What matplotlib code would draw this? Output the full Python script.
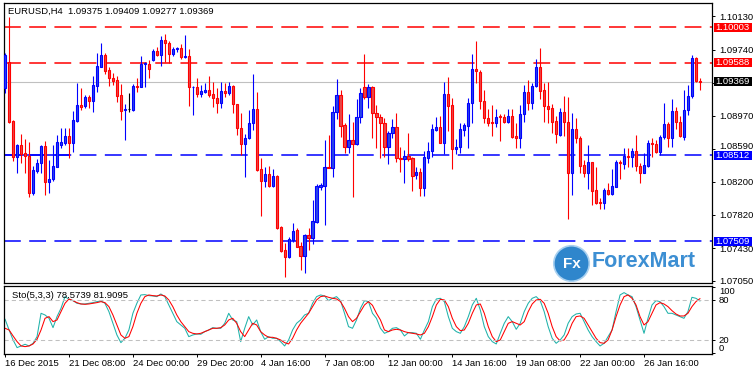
import numpy as np
import matplotlib
matplotlib.use("Agg")
import matplotlib.pyplot as plt
from matplotlib.patches import Rectangle, Ellipse
from matplotlib.transforms import blended_transform_factory

plt.rcParams["font.family"] = ["Liberation Sans", "DejaVu Sans"]

# header values
symbol = "EURUSD,H4"
last_ohlc = [1.09375, 1.09409, 1.09277, 1.09369]
sto_params = "Sto(5,3,3)"
sto_last = [78.5739, 81.9095]

# H4 candles
opens = [1.09293, 1.09596, 1.08912, 1.08496, 1.08632, 1.08535, 1.08504, 1.08076, 1.08333, 1.08418,
         1.08620, 1.08204, 1.08231, 1.08379, 1.08632, 1.08659, 1.08737, 1.08659, 1.08916, 1.09099,
         1.09091, 1.09188, 1.09149, 1.09324, 1.09546, 1.09682, 1.09507, 1.09414, 1.09390, 1.09215,
         1.09040, 1.09048, 1.09040, 1.09320, 1.09313, 1.09573, 1.09573, 1.09624, 1.09725, 1.09682,
         1.09857, 1.09818, 1.09690, 1.09748, 1.09760, 1.09655, 1.09670, 1.09305, 1.09313, 1.09223,
         1.09254, 1.09274, 1.09227, 1.09176, 1.09126, 1.09262, 1.09235, 1.09320, 1.09106, 1.08826,
         1.08644, 1.08710, 1.08885, 1.09052, 1.08348, 1.08216, 1.08294, 1.08154, 1.08270, 1.07671,
         1.07407, 1.07329, 1.07524, 1.07640, 1.07454, 1.07341, 1.07578, 1.07551, 1.07737, 1.08146,
         1.08157, 1.08379, 1.08368, 1.09013, 1.09215, 1.08865, 1.08605, 1.08690, 1.08640, 1.08963,
         1.09313, 1.09196, 1.09313, 1.09001, 1.08963, 1.08893, 1.08613, 1.08768, 1.08838, 1.08484,
         1.08473, 1.08504, 1.08476, 1.08282, 1.08321, 1.08126, 1.08476, 1.08566, 1.08807, 1.08838,
         1.08659, 1.09227, 1.09099, 1.08581, 1.08613, 1.08807, 1.08858, 1.09118, 1.09515, 1.09480,
         1.09145, 1.08943, 1.08900, 1.08893, 1.08970, 1.08963, 1.08904, 1.08970, 1.08737, 1.08718,
         1.08990, 1.09254, 1.09126, 1.09320, 1.09538, 1.09274, 1.09087, 1.09060, 1.08912, 1.08749,
         1.09013, 1.08904, 1.08301, 1.08819, 1.08710, 1.08399, 1.08309, 1.08430, 1.08107, 1.07971,
         1.07951, 1.08107, 1.08060, 1.08146, 1.08437, 1.08410, 1.08507, 1.08488, 1.08562, 1.08391,
         1.08309, 1.08391, 1.08651, 1.08644, 1.08554, 1.08721, 1.08873, 1.08710, 1.09029, 1.08904,
         1.08729, 1.09040, 1.09208, 1.09643, 1.09375]
highs = [1.09701, 1.10121, 1.08924, 1.08640, 1.08760, 1.08702, 1.08671, 1.08387, 1.08465, 1.08632,
         1.08679, 1.08457, 1.08632, 1.08749, 1.08826, 1.08826, 1.08826, 1.09033, 1.09359, 1.09293,
         1.09215, 1.09215, 1.09437, 1.09709, 1.09826, 1.09701, 1.09546, 1.09476, 1.09437, 1.09344,
         1.09106, 1.09243, 1.09344, 1.09410, 1.09670, 1.09604, 1.09624, 1.09748, 1.09779, 1.09896,
         1.09927, 1.09838, 1.09779, 1.09779, 1.09810, 1.09915, 1.09748, 1.09320, 1.09410, 1.09332,
         1.09359, 1.09437, 1.09371, 1.09293, 1.09371, 1.09359, 1.09371, 1.09332, 1.09110, 1.09009,
         1.08760, 1.09040, 1.09460, 1.09254, 1.08476, 1.08379, 1.08387, 1.08348, 1.08282, 1.07687,
         1.07485, 1.07562, 1.07718, 1.07660, 1.07504, 1.07590, 1.07660, 1.07990, 1.08177, 1.08185,
         1.08690, 1.08749, 1.09087, 1.09402, 1.09274, 1.08893, 1.08994, 1.08896, 1.09165, 1.09293,
         1.09694, 1.09344, 1.09320, 1.09099, 1.08994, 1.08943, 1.08799, 1.08935, 1.09001, 1.08605,
         1.08574, 1.08768, 1.08496, 1.08379, 1.08360, 1.08566, 1.08671, 1.08877, 1.08963, 1.08970,
         1.09371, 1.09429, 1.09184, 1.08698, 1.08885, 1.08893, 1.09176, 1.09694, 1.09838, 1.09507,
         1.09274, 1.09052, 1.09099, 1.09048, 1.08994, 1.08994, 1.09048, 1.09052, 1.08893, 1.09099,
         1.09332, 1.09390, 1.09351, 1.09631, 1.09760, 1.09359, 1.09371, 1.09110, 1.08970, 1.09060,
         1.09204, 1.09196, 1.09009, 1.08943, 1.08737, 1.08457, 1.08632, 1.08437, 1.08379, 1.08010,
         1.08134, 1.08185, 1.08348, 1.08457, 1.08457, 1.08593, 1.08593, 1.08593, 1.08749, 1.08418,
         1.08535, 1.08690, 1.08710, 1.08690, 1.08749, 1.09118, 1.08904, 1.09165, 1.09079, 1.08970,
         1.09274, 1.09332, 1.09682, 1.09655, 1.09409]
lows = [1.09235, 1.08885, 1.08449, 1.08309, 1.08418, 1.08309, 1.08021, 1.08049, 1.08301, 1.08309,
        1.08049, 1.08076, 1.08216, 1.08371, 1.08593, 1.08632, 1.08476, 1.08554, 1.08904, 1.09040,
        1.09060, 1.09060, 1.09021, 1.09254, 1.09538, 1.09460, 1.09320, 1.09332, 1.09138, 1.08924,
        1.08690, 1.09021, 1.09033, 1.09254, 1.09305, 1.09313, 1.09410, 1.09616, 1.09663, 1.09554,
        1.09593, 1.09585, 1.09663, 1.09721, 1.09631, 1.09643, 1.09087, 1.08982, 1.09188, 1.09188,
        1.09235, 1.09188, 1.09079, 1.09009, 1.09068, 1.09188, 1.09215, 1.09001, 1.08749, 1.08515,
        1.08262, 1.08698, 1.08807, 1.08333, 1.07807, 1.08146, 1.08138, 1.08146, 1.07648, 1.07387,
        1.07096, 1.07318, 1.07504, 1.07438, 1.07174, 1.07142, 1.07407, 1.07473, 1.07726, 1.08107,
        1.07699, 1.08360, 1.08255, 1.08931, 1.08729, 1.08535, 1.08543, 1.08029, 1.08632, 1.08893,
        1.09165, 1.09068, 1.08718, 1.08593, 1.08476, 1.08496, 1.08406, 1.08710, 1.08437, 1.08321,
        1.08192, 1.08449, 1.08099, 1.08231, 1.08041, 1.08041, 1.08426, 1.08496, 1.08799, 1.08651,
        1.08527, 1.08799, 1.08352, 1.08527, 1.08543, 1.08737, 1.08601, 1.08893, 1.09359, 1.09052,
        1.08885, 1.08854, 1.08737, 1.08846, 1.08679, 1.08885, 1.08885, 1.08718, 1.08593, 1.08593,
        1.08904, 1.09040, 1.09048, 1.09305, 1.09165, 1.08904, 1.08885, 1.08776, 1.08659, 1.08737,
        1.08737, 1.07769, 1.08049, 1.08659, 1.08301, 1.08262, 1.08115, 1.07932, 1.07944, 1.07885,
        1.07885, 1.08049, 1.08049, 1.08138, 1.08231, 1.08348, 1.08379, 1.08379, 1.08333, 1.08185,
        1.08301, 1.08379, 1.08496, 1.08543, 1.08515, 1.08698, 1.08613, 1.08613, 1.08815, 1.08721,
        1.08690, 1.08982, 1.09176, 1.09371, 1.09277]
closes = [1.09682, 1.08904, 1.08496, 1.08632, 1.08527, 1.08507, 1.08076, 1.08340, 1.08418, 1.08620,
          1.08204, 1.08231, 1.08387, 1.08663, 1.08663, 1.08737, 1.08651, 1.08924, 1.09099, 1.09079,
          1.09188, 1.09149, 1.09332, 1.09554, 1.09682, 1.09499, 1.09410, 1.09383, 1.09208, 1.09033,
          1.09052, 1.09048, 1.09320, 1.09313, 1.09577, 1.09585, 1.09519, 1.09725, 1.09682, 1.09857,
          1.09818, 1.09690, 1.09748, 1.09760, 1.09655, 1.09670, 1.09305, 1.09313, 1.09223, 1.09262,
          1.09274, 1.09215, 1.09176, 1.09126, 1.09262, 1.09235, 1.09320, 1.09106, 1.08826, 1.08640,
          1.08710, 1.08885, 1.09052, 1.08340, 1.08216, 1.08294, 1.08154, 1.08270, 1.07660, 1.07399,
          1.07329, 1.07531, 1.07629, 1.07446, 1.07341, 1.07578, 1.07551, 1.07745, 1.08154, 1.08165,
          1.08371, 1.08368, 1.09013, 1.09215, 1.08858, 1.08605, 1.08690, 1.08640, 1.08963, 1.09243,
          1.09188, 1.09313, 1.09001, 1.08963, 1.08893, 1.08613, 1.08768, 1.08838, 1.08476, 1.08473,
          1.08507, 1.08473, 1.08274, 1.08321, 1.08126, 1.08488, 1.08566, 1.08815, 1.08838, 1.08659,
          1.09227, 1.09091, 1.08581, 1.08613, 1.08815, 1.08865, 1.09118, 1.09515, 1.09488, 1.09149,
          1.08943, 1.08893, 1.08893, 1.08963, 1.08963, 1.08904, 1.08970, 1.08729, 1.08718, 1.08994,
          1.09254, 1.09126, 1.09320, 1.09538, 1.09266, 1.09091, 1.09052, 1.08904, 1.08756, 1.09013,
          1.08896, 1.08301, 1.08819, 1.08710, 1.08391, 1.08301, 1.08437, 1.08099, 1.07959, 1.07959,
          1.08107, 1.08060, 1.08154, 1.08437, 1.08418, 1.08507, 1.08488, 1.08562, 1.08387, 1.08309,
          1.08399, 1.08651, 1.08644, 1.08554, 1.08721, 1.08873, 1.08710, 1.09029, 1.08904, 1.08737,
          1.09040, 1.09208, 1.09643, 1.09379, 1.09369]

# stochastic main (%K) and signal (%D)
sto_main = [51, 35, 20, 8.5, 11, 13.5, 11, 15, 25, 60,
            57.5, 52.5, 38.5, 55, 67.5, 85, 81, 79, 75, 74,
            74, 75, 76, 77.5, 78.5, 75, 62.5, 45, 27.5, 16,
            22.5, 35, 60, 75, 87.5, 88, 86.5, 86, 85, 89,
            85, 72.5, 60, 47.5, 42.5, 37.5, 25, 27.5, 29, 28.5,
            32.5, 35, 38.5, 37.5, 37.5, 45, 60, 50, 47.5, 17.5,
            37.5, 55, 42.5, 50, 32.5, 21, 25, 22.5, 22.5, 17.5,
            11, 20, 35, 45, 50, 57.5, 60, 75, 85, 87.5,
            86, 79, 82.5, 85, 79, 60, 40, 37.5, 50, 67.5,
            79, 77.5, 60, 52.5, 37.5, 30, 32.5, 37.5, 38.5, 35,
            26, 31, 31, 30, 21, 35, 47.5, 70, 81.5, 82.5,
            77.5, 55, 37.5, 32.5, 30, 40, 55, 72.5, 82.5, 65,
            40, 25, 17.5, 14, 30, 45, 55, 47.5, 36, 45,
            62.5, 75, 82.5, 85, 79, 62.5, 40, 22.5, 15, 20,
            27.5, 45, 55, 59, 60, 47.5, 35, 25, 17.5, 11,
            15, 25, 35, 62.5, 87.5, 91, 87.5, 85, 70, 50,
            30, 52.5, 72.5, 79, 77.5, 70, 60, 60, 57.5, 55,
            52.5, 62.5, 84, 82.5, 78.5739]
sto_signal = [37.5, 35, 26, 17.5, 11, 10, 11, 14, 21, 35,
              52.5, 55, 47.5, 50, 62.5, 75, 81.5, 79, 76, 74,
              73.5, 74, 75, 76, 77.5, 76, 70, 57.5, 42.5, 27.5,
              22.5, 25, 40, 60, 75, 85, 87.5, 86.5, 86, 87.5,
              86, 80, 70, 57.5, 47.5, 40, 32.5, 30, 29, 30,
              32.5, 35, 37.5, 37.5, 38.5, 42.5, 50, 52.5, 45, 32.5,
              25, 35, 45, 42.5, 32.5, 27.5, 24, 24, 22.5, 20,
              16, 14, 22.5, 35, 45, 52.5, 60, 70, 80, 85,
              86, 84, 82.5, 81.5, 77.5, 67.5, 55, 47.5, 52.5, 62.5,
              72.5, 77.5, 72, 60, 50, 35, 32.5, 35, 36, 35,
              32.5, 31, 30, 29, 27.5, 30, 40, 55, 72.5, 81,
              80, 70, 52.5, 40, 34, 35, 45, 60, 72.5, 74,
              60, 40, 25, 17.5, 20, 32.5, 45, 47.5, 45, 42.5,
              47.5, 62.5, 74, 80, 81, 75, 60, 40, 25, 18.5,
              20, 30, 45, 55, 56, 52.5, 42.5, 32.5, 22.5, 16,
              15, 20, 35, 55, 72.5, 85, 87.5, 82.5, 72.5, 55,
              42.5, 47.5, 60, 72.5, 76, 74, 70, 64, 59, 56,
              56, 60, 70, 77.5, 81.9095]

# horizontal levels
resistance = [1.10003, 1.09588]
support = [1.08512, 1.07509]
bid = 1.09369

price_ticks = [1.10130, 1.09740, 1.09350, 1.08970, 1.08590, 1.08200, 1.07820, 1.07430, 1.07050]
time_tick_pos = [0, 16, 32, 48, 64, 80, 96, 112, 128, 144, 160]
time_tick_labels = ["16 Dec 2015", "21 Dec 08:00", "24 Dec 00:00", "29 Dec 20:00", "4 Jan 16:00",
                    "7 Jan 08:00", "12 Jan 00:00", "14 Jan 16:00", "19 Jan 08:00", "22 Jan 00:00",
                    "26 Jan 16:00"]

W, H = 756, 374
fig = plt.figure(figsize=(W / 100, H / 100), dpi=100)
fig.patch.set_facecolor("white")


def box(l, t, r, b):
    return [l / W, 1 - b / H, (r - l) / W, (b - t) / H]


ax = fig.add_axes(box(3.5, 3.3, 712.3, 282.7))
ax2 = fig.add_axes(box(3.5, 285.5, 712.3, 353.5), sharex=ax)

o = np.array(opens)
h = np.array(highs)
lo = np.array(lows)
c = np.array(closes)
x = np.arange(len(o))
xmin, xmax = -0.4, 177.1

edge = np.where(c > o, "#0000ff", np.where(c < o, "#ff0000", "#000000"))
fill = np.where(c > o, "#2a46e8", np.where(c < o, "#e84848", "#000000"))

ax.vlines(x, lo, h, colors=edge, lw=0.8, zorder=3)
body_h = np.maximum(np.abs(c - o), 0.00002)
ax.bar(x, body_h, bottom=np.minimum(o, c), width=0.55, color=fill, edgecolor=edge,
       linewidth=0.8, zorder=4)

# support / resistance levels
for lvl in resistance:
    ax.axhline(lvl, color="#ff0000", lw=1.1, linestyle=(0, (11, 5.5)), zorder=2)
for lvl in support:
    ax.axhline(lvl, color="#0000ff", lw=1.1, linestyle=(0, (11, 5.5)), zorder=2)
ax.hlines(support[0], xmin, 16, colors="#0000ff", lw=1.1, zorder=2)
ax.axhline(bid, color="#c0c0c0", lw=0.8, zorder=1)

ax.set_xlim(xmin, xmax)
ax.set_ylim(1.07026, 1.10283)
ax.yaxis.tick_right()
ax.set_yticks(price_ticks)
# 1.09350 sits under the bid label, so its text is not shown
ax.set_yticklabels(["" if abs(t - 1.0935) < 1e-6 else "%.5f" % t for t in price_ticks])
ax.tick_params(axis="y", length=2.2, width=0.7, pad=2.5, labelsize=6.8, colors="black")
ax.tick_params(axis="x", bottom=False, labelbottom=False)
for lbl in ax.get_yticklabels():
    if lbl.get_text() == "1.08590":
        lbl.set_va("baseline")
for s in ax.spines.values():
    s.set_linewidth(0.9)

# price labels on the right scale
trans = blended_transform_factory(ax.transAxes, ax.transData)
level_boxes = [(resistance[0], "#ff0000", "white"), (resistance[1], "#ff0000", "white"),
               (bid, "#000000", "white"), (support[0], "#0000ff", "white"),
               (support[1], "#0000ff", "white")]
bh = 9 / 8580
for lvl, bg, fg in level_boxes:
    ax.add_patch(Rectangle((1.0024, lvl - bh / 2), 0.0536, bh, transform=trans,
                           facecolor=bg, edgecolor="none", clip_on=False, zorder=5))
    ax.text(1.0045, lvl, "%.5f" % lvl, transform=trans, color=fg, fontsize=6.8,
            va="center", ha="left", zorder=6, clip_on=False)

fig.text(8 / W, 1 - 11.7 / H, "%s  %.5f %.5f %.5f %.5f" % (symbol, *last_ohlc),
         fontsize=6.8, va="center", ha="left")

# logo
ax.add_patch(Ellipse((0.8014, 0.0687), 0.050, 0.127, transform=ax.transAxes,
                     facecolor="#2f86cc", edgecolor="#a8d0f0", lw=1.2, zorder=6))
ax.text(0.8014, 0.0687, "Fx", transform=ax.transAxes, color="white", fontsize=11,
        fontweight="bold", ha="center", va="center", zorder=7)
ax.text(0.8300, 0.075, "ForexMart", transform=ax.transAxes, color="#3d8fd3",
        fontsize=15.5, fontweight="bold", ha="left", va="center", zorder=7)

# stochastic panel
ax2.plot(x, sto_main, color="#20b2aa", lw=0.75)
ax2.plot(x, sto_signal, color="#ff0000", lw=0.75)
for lvl in (80, 20):
    ax2.axhline(lvl, color="#c0c0c0", lw=0.75, linestyle=(0, (4, 3)))
ax2.set_ylim(-0.3, 101.7)
ax2.yaxis.tick_right()
ax2.set_yticks([100, 80, 20, 0])
ax2.set_yticklabels(["100", "80", "20", "0"])
ax2.tick_params(axis="y", length=2.2, width=0.7, pad=2.5, labelsize=6.8)
yl = ax2.get_yticklabels()
yl[0].set_va("top")
yl[3].set_va("bottom")
ax2.set_xticks(time_tick_pos)
ax2.set_xticklabels(time_tick_labels)
ax2.tick_params(axis="x", length=2.5, width=0.7, pad=1.5, labelsize=6.8)
for lbl in ax2.get_xticklabels():
    lbl.set_ha("left")
for s in ax2.spines.values():
    s.set_linewidth(0.9)
ax2.text(8 / 708.8, 0.85, "%s %.4f %.4f" % (sto_params, *sto_last), transform=ax2.transAxes,
         fontsize=6.8, va="center", ha="left")

fig.savefig("out.png", dpi=100)
